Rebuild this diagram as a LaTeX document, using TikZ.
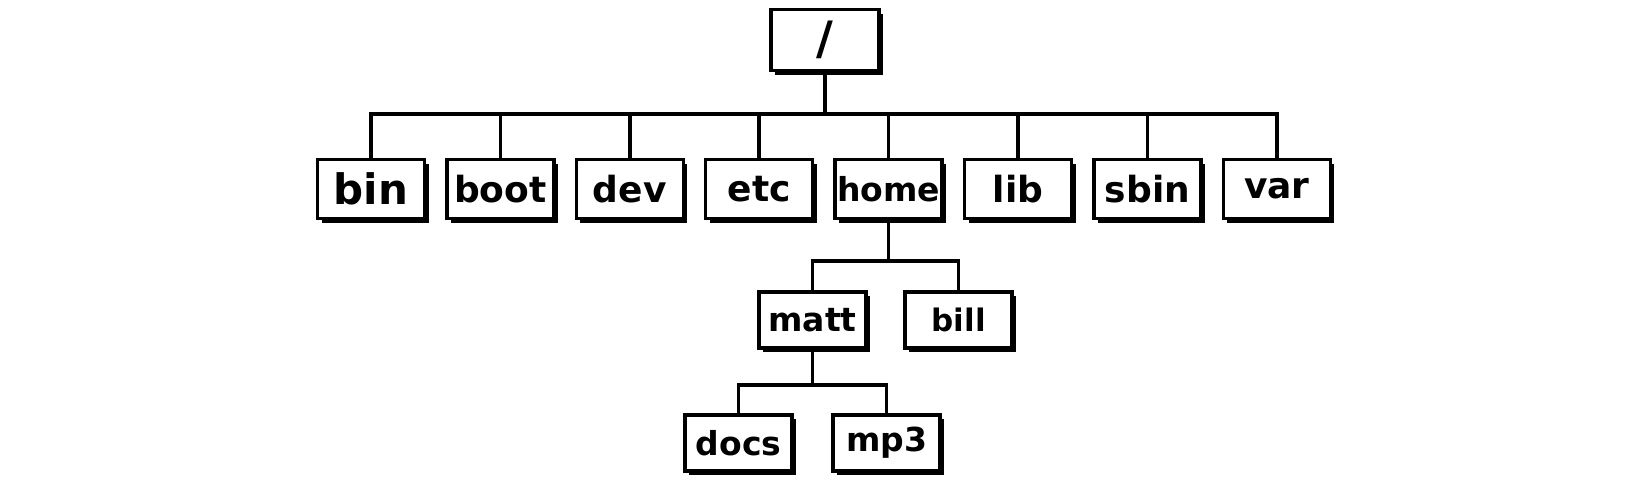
\documentclass[tikz,border=0pt]{standalone}
\usepackage{fontspec}
\setmainfont{DejaVu Sans}
\usepackage{tikz}
\usetikzlibrary{positioning}
\usetikzlibrary{shadows}
\tikzstyle{dir} = [rectangle, draw, fill=white, line width=3.5pt,
    minimum width=107pt, minimum height=59pt, inner sep=0pt,
    font=\bfseries\fontsize{36}{40}\selectfont,
    drop shadow={shadow xshift=4pt, shadow yshift=-4pt, fill=black, opacity=1}]
\tikzstyle{subdir} = [dir, minimum height=56pt, font=\bfseries\fontsize{33}{38}\selectfont]
\tikzstyle{edge} = [draw, line width=3.5pt]

\begin{document}
\begin{tikzpicture}[x=1pt, y=-1pt, node distance=129.4pt]
  \useasboundingbox (0,0) rectangle (1650,488);
  % Place nodes
  \node [dir, minimum width=108pt, minimum height=61pt,
         font=\bfseries\fontsize{46}{50}\selectfont] (root) at (825,40) {/};
  \node [dir, font=\bfseries\fontsize{42}{46}\selectfont] (bin) at (371,189) {bin};
  \node [dir, right of=bin] (boot) {boot};
  \node [dir, right of=boot] (dev) {dev};
  \node [dir, right of=dev] (etc) {etc};
  \node [dir, right of=etc, font=\bfseries\fontsize{33}{38}\selectfont] (home) {home};
  \node [dir, right of=home] (lib) {lib};
  \node [dir, right of=lib] (sbin) {sbin};
  \node [dir, right of=sbin] (var) {var};
  \node [subdir, below of=home, node distance=131pt, xshift=-76pt] (matt) {matt};
  \node [subdir, below of=home, node distance=131pt, xshift=70pt,
         font=\bfseries\fontsize{31}{36}\selectfont] (bill) {bill};
  \node [subdir, below of=matt, node distance=123pt, xshift=-74pt] (docs) {docs};
  \node [subdir, below of=matt, node distance=123pt, xshift=74pt] (mp3) {mp3};

  % Junction points
  \coordinate [below of=root, node distance=74pt] (rootbus);
  \coordinate [below of=home, node distance=72pt] (homebus);
  \coordinate [below of=matt, node distance=65pt] (mattbus);

  % Draw edges
  \path [edge] (root.south) -- (rootbus);
  \path [edge] (rootbus) -| (bin.north);
  \path [edge] (rootbus) -| (boot.north);
  \path [edge] (rootbus) -| (dev.north);
  \path [edge] (rootbus) -| (etc.north);
  \path [edge] (rootbus) -| (home.north);
  \path [edge] (rootbus) -| (lib.north);
  \path [edge] (rootbus) -| (sbin.north);
  \path [edge] (rootbus) -| (var.north);
  \path [edge] (home.south) -- (homebus);
  \path [edge] (homebus) -| (matt.north);
  \path [edge] (homebus) -| (bill.north);
  \path [edge] (matt.south) -- (mattbus);
  \path [edge] (mattbus) -| (docs.north);
  \path [edge] (mattbus) -| (mp3.north);
\end{tikzpicture}
\end{document}
